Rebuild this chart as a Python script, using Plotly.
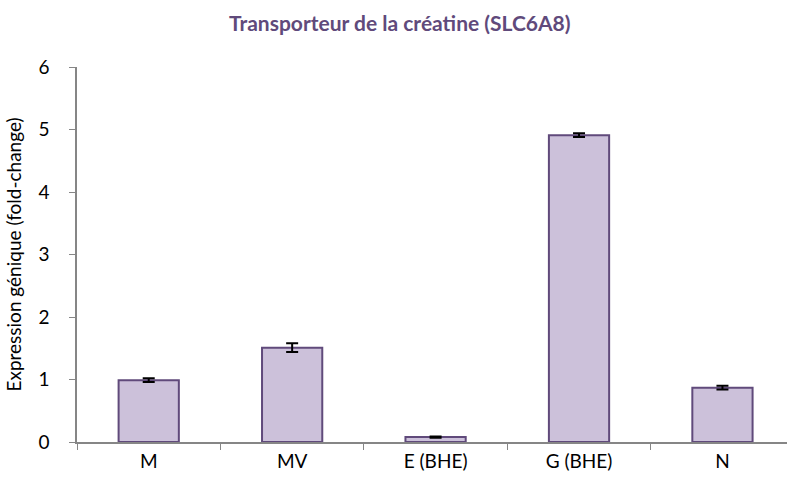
import plotly.graph_objects as go

# Relative expression of the creatine transporter per cell type
categories = ["M", "MV", "E (BHE)", "G (BHE)", "N"]
fold_change = [0.99, 1.51, 0.08, 4.91, 0.87]
error = [0.03, 0.07, 0.01, 0.03, 0.03]
y_ticks = [0, 1, 2, 3, 4, 5, 6]

purple = "#604a7b"
axis_grey = "#868686"
font_family = "Lato, 'Open Sans', sans-serif"

fig = go.Figure(
    go.Bar(
        x=categories,
        y=fold_change,
        width=0.42,
        marker=dict(color="#ccc1da", line=dict(color=purple, width=2)),
        error_y=dict(type="data", array=error, visible=True,
                     color="black", thickness=2, width=6),
    )
)

fig.update_layout(
    width=787,
    height=489,
    margin=dict(l=77, r=0, t=67, b=47),
    paper_bgcolor="white",
    plot_bgcolor="white",
    showlegend=False,
    title=dict(
        text="<b>Transporteur de la créatine (SLC6A8)</b>",
        x=0.508, xanchor="center", y=0.952, yanchor="middle",
        font=dict(family=font_family, size=21, color=purple),
    ),
    font=dict(family=font_family, size=19, color="black"),
)

fig.update_xaxes(
    type="category",
    range=[-0.5, 4.45],
    tickson="boundaries",
    ticks="outside",
    ticklen=6,
    tickcolor=axis_grey,
    showline=True,
    linecolor=axis_grey,
    linewidth=1.5,
    showgrid=False,
    tickfont=dict(size=19),
    ticklabelstandoff=1,
)

fig.update_yaxes(
    range=[0, 6],
    tickvals=y_ticks,
    ticks="outside",
    ticklen=6,
    tickcolor=axis_grey,
    showline=True,
    linecolor=axis_grey,
    linewidth=1.5,
    showgrid=False,
    zeroline=False,
    tickfont=dict(size=19),
    ticklabelstandoff=16,
    title=dict(text="Expression génique (fold-change)", font=dict(size=19), standoff=12),
)

fig.write_html("out.html")
